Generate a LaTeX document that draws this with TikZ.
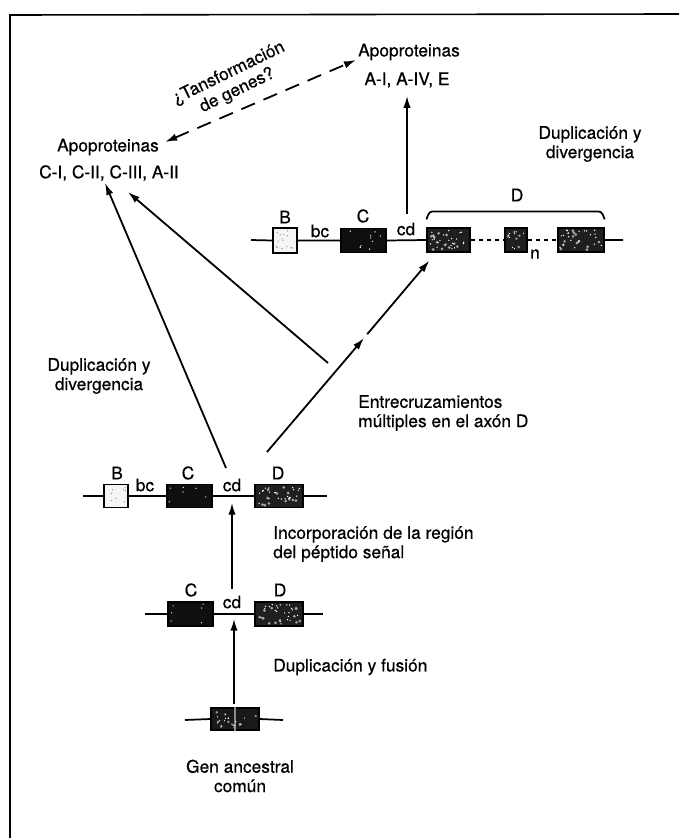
\documentclass[tikz,border=0pt]{standalone}
\usepackage{fontspec}
\setmainfont{TeX Gyre Heros}[BoldFont={TeX Gyre Heros},BoldFeatures={FakeBold=0.6}]
\usetikzlibrary{arrows.meta,calc}
\newcommand\genespeck[4]{\foreach \k in {1,...,#2}{\pgfmathsetmacro\rxa{rnd}\pgfmathsetmacro\rya{rnd}\fill[#3] let \p1=(#1.south west), \p2=(#1.north east) in ({\x1+2pt+\rxa*(\x2-\x1-4pt)}, {\y1+2pt+\rya*(\y2-\y1-4pt)}) circle (#4);}}
\begin{document}
\begin{tikzpicture}[x=0.75pt,y=-0.75pt,
  txt/.style={font=\fontsize{13}{14.5}\selectfont\bfseries, inner sep=0pt},
  gline/.style={line width=1.3pt},
  gbox/.style={draw, line width=0.9pt, inner sep=0pt, minimum height=18pt},
  bbox/.style={gbox, fill=black!4, minimum width=18pt},
  cbox/.style={gbox, fill=black!94},
  dbox/.style={gbox, fill=black!88},
  arr/.style={line width=1.35pt, -{Latex[length=9pt,width=5.5pt]}},
  dasharr/.style={line width=1.35pt, dash pattern=on 11pt off 7pt, {Latex[length=9pt,width=5.5pt]}-{Latex[length=9pt,width=5.5pt]}},
  dotline/.style={line width=1.3pt, dash pattern=on 3.5pt off 2.5pt},
]
\useasboundingbox (0,0) rectangle (679,838);
\pgfmathsetseed{7}
% frame
\draw[line width=1.2pt] (679,14) -- (10,15) -- (10,838);

% texts
\node[txt] (aptop) at (409,52) {Apoproteinas};
\node[txt] (aie) at (407,80) {A-I, A-IV, E};
\node[txt] (apleft) at (108,147) {Apoproteinas};
\node[txt] (cii) at (109,173) {C-I, C-II, C-III, A-II};
\node[txt, align=center] (dupr) at (590,144) {Duplicación y\\divergencia};
\node[txt, align=center, rotate=26] (trans) at (233,82) {¿Tansformación\\de genes?};
\node[txt, align=center] (dupl) at (99,376) {Duplicación y\\divergencia};
\node[txt, align=left, anchor=west] (entre) at (358,413) {Entrecruzamientos\\múltiples en el axón D};
\node[txt, align=left, anchor=west] (incorp) at (273,544) {Incorporación de la región\\del péptido señal};
\node[txt, anchor=west] (dupf) at (273,667) {Duplicación y fusión};
\node[txt, align=center] (gen) at (240,776) {Gen ancestral\\común};

% upper gene
\coordinate (uL) at (251,240);
\coordinate (uR) at (623,240);
\node[bbox, minimum height=18.75pt] (uB) at (285,240.5) {};
\node[cbox, minimum width=33.75pt] (uC) at (363.5,240.5) {};
\node[dbox, minimum width=32.25pt] (uD1) at (448.5,240) {};
\node[dbox, minimum width=16.5pt] (uDn) at (516,240) {};
\node[dbox, minimum width=34.5pt] (uD3) at (581,240) {};
\draw[gline] (uL) -- (uB.west) (uB.east) -- (uC.west) (uC.east) -- (uD1.west) (uD3.east) -- (uR);
\draw[dotline] (uD1.east) -- (uDn.west) (uDn.east) -- (uD3.west);
\node[txt] (uBl) at (285,217) {B};
\node[txt] (ubc) at (320,231) {bc};
\node[txt] (uCl) at (363,216) {C};
\node[txt] (ucd) at (406,229) {cd};
\node[txt] (un) at (535,254) {n};
\node[txt] (uDl) at (517,195) {D};
\draw[line width=1.3pt, rounded corners=2.5pt] ($(uD1.north west)+(0,-8)$) -- ++(3,-8) -- ($(uD3.north east)+(-3,-16)$) -- ++(3,8);

% middle gene
\coordinate (mL) at (83,496);
\coordinate (mR) at (327,496);
\node[bbox, minimum height=17.25pt] (mB) at (116,496) {};
\node[cbox, minimum width=33.75pt, minimum height=17.25pt] (mC) at (189.5,496) {};
\node[dbox, minimum width=36pt, minimum height=17.25pt] (mD) at (279,496) {};
\draw[gline] (mL) -- (mB.west) (mB.east) -- (mC.west) (mC.east) -- (mD.west) (mD.east) -- (mR);
\node[txt] (mBl) at (117,473) {B};
\node[txt] (mbc) at (145,485) {bc};
\node[txt] (mCl) at (188,473) {C};
\node[txt] (mcd) at (232,485) {cd};
\node[txt] (mDl) at (278,473) {D};

% lower gene
\coordinate (lL) at (145,614);
\coordinate (lR) at (323,614);
\node[cbox, minimum width=33.75pt] (lC) at (190.5,614) {};
\node[dbox, minimum width=36pt] (lD) at (279,614) {};
\draw[gline] (lL) -- (lC.west) (lC.east) -- (lD.west) (lD.east) -- (lR);
\node[txt] (lCl) at (191,590) {C};
\node[txt] (lcd) at (232,602) {cd};
\node[txt] (lDl) at (280,590) {D};

% ancestral gene
\coordinate (aL) at (185,720);
\coordinate (aR) at (283,720);
\node[gbox, fill=black!90, minimum width=36pt, minimum height=16.5pt] (anc) at (235,719) {};
\draw[gline] (aL) -- (anc.west) (anc.east) -- (aR);
\draw[black!45, line width=0.8pt] (anc.north) -- (anc.south);

% speckles (texture of the gene boxes)
\genespeck{uB}{14}{black!45}{0.5pt}
\genespeck{mB}{8}{black!45}{0.5pt}
\genespeck{uC}{10}{white}{0.5pt}
\genespeck{mC}{6}{white}{0.5pt}
\genespeck{lC}{6}{white}{0.5pt}
\foreach \bx in {uD1,uD3,mD,lD}{
  \genespeck{\bx}{12}{black!35}{1.1pt}
  \genespeck{\bx}{22}{white}{0.55pt}
}
\genespeck{uDn}{5}{black!40}{1pt}
\genespeck{uDn}{8}{white}{0.5pt}
\genespeck{anc}{8}{black!40}{1pt}
\genespeck{anc}{16}{white}{0.5pt}

% connectors
\coordinate (a1s) at (226,468);
\coordinate (t1) at (105,183);
\coordinate (a2s) at (328,363);
\coordinate (t2) at (128,192);
\coordinate (a3s) at (267,452);
\coordinate (a3m) at (364,338);
\coordinate (a3n) at (367.2,334.2);
\draw[dasharr] ($(apleft.east)+(6,-5)$) -- ($(aptop.west)+(-2,8)$);
\draw[arr] ($(ucd.north)+(1,-8)$) -- ($(aie.south)+(0,8)$);
\draw[arr] (a1s) -- (t1);
\draw[arr] (a2s) -- (t2);
\draw[arr] (a3s) -- (a3m);
\draw[arr] (a3n) -- ($(uD1.south west)+(3,8)$);
\draw[arr] ($(lcd.north)+(0,-6)$) -- ($(mcd.south)+(0,11)$);
\draw[arr] ($(anc.north)+(-1,-3)$) -- ($(lcd.south)+(2,10)$);
\end{tikzpicture}
\end{document}
